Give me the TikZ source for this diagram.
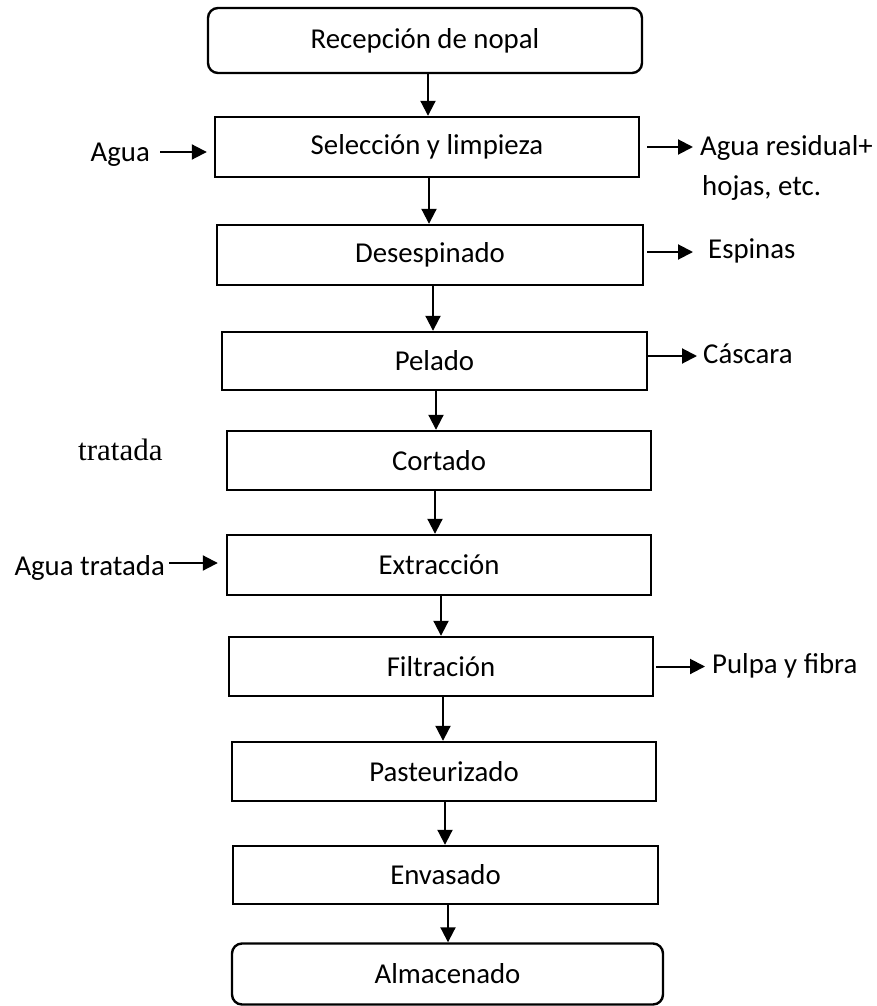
\documentclass[tikz,border=0pt]{standalone}
\usepackage{fontspec}
\setmainfont{Carlito}
\newfontfamily\serifont{Liberation Serif}
\usetikzlibrary{arrows.meta,calc}
\tikzset{
  stepbox/.style={draw=black, line width=2.4pt, inner sep=0pt, font=\fontsize{28.8}{34}\selectfont},
  endbox/.style={stepbox, rounded corners=10pt},
  flow/.style={line width=2pt, -{Triangle[width=15pt,length=15pt]}},
  lbl/.style={inner sep=0pt, font=\fontsize{28.8}{34}\selectfont},
  serlbl/.style={inner sep=0pt, font=\serifont\fontsize{31}{36}\selectfont}
}
\begin{document}
\begin{tikzpicture}[x=1pt,y=-1pt]
\useasboundingbox (0,0) rectangle (877,1006);
% boxes
\node[endbox, minimum width=434pt, minimum height=65pt] (r1) at (425,40.5) {Recepción de nopal};
\node[stepbox, minimum width=424pt, minimum height=60pt] (r2) at (427,147) {Selección y limpieza};
\node[stepbox, minimum width=426pt, minimum height=60pt] (r3) at (430,255) {Desespinado};
\node[stepbox, minimum width=425pt, minimum height=58pt] (r4) at (434.5,361) {Pelado};
\node[stepbox, minimum width=424pt, minimum height=59pt] (r5) at (439,460.5) {Cortado};
\node[stepbox, minimum width=424pt, minimum height=60pt] (r6) at (439,565) {Extracción};
\node[stepbox, minimum width=424pt, minimum height=59pt] (r7) at (441,666.5) {Filtración};
\node[stepbox, minimum width=424pt, minimum height=59pt] (r8) at (444,771.5) {Pasteurizado};
\node[stepbox, minimum width=425pt, minimum height=58pt] (r9) at (445.5,875) {Envasado};
\node[endbox, minimum width=431pt, minimum height=61pt] (r10) at (447.5,974) {Almacenado};
% vertical arrows
\draw[flow] ([xshift=3pt]r1.south) -- ([xshift=3pt]r1.south |- r2.north);
\draw[flow] ([xshift=2pt]r2.south) -- ([xshift=2pt]r2.south |- r3.north);
\draw[flow] ([xshift=3pt]r3.south) -- ([xshift=3pt]r3.south |- r4.north);
\draw[flow] ([xshift=1.5pt]r4.south) -- ([xshift=1.5pt]r4.south |- r5.north);
\draw[flow] ([xshift=-4pt]r5.south) -- ([xshift=-4pt]r5.south |- r6.north);
\draw[flow] ([xshift=2pt]r6.south) -- ([xshift=2pt]r6.south |- r7.north);
\draw[flow] ([xshift=2pt]r7.south) -- ([xshift=2pt]r7.south |- r8.north);
\draw[flow] ([xshift=1pt]r8.south) -- ([xshift=1pt]r8.south |- r9.north);
\draw[flow] ([xshift=2.5pt]r9.south) -- ([xshift=2.5pt]r9.south |- r10.north);
% side labels
\node[lbl, anchor=base east] (agua) at (150,161) {Agua};
\node[lbl, anchor=base west] (res1) at (700,155) {Agua residual+};
\node[lbl, anchor=base west] (res2) at (702,195) {hojas, etc.};
\node[lbl, anchor=base west] (esp) at (708,258) {Espinas};
\node[lbl, anchor=base west] (casc) at (703,363) {Cáscara};
\node[serlbl, anchor=base west] (trat) at (78,460) {tratada};
\node[lbl, anchor=base east] (aguat) at (165,575) {Agua tratada};
\node[lbl, anchor=base west] (pulpa) at (712,673) {Pulpa y fibra};
% side arrows
\draw[flow] ($(agua.base east)+(10pt,9pt)$) -- ($(agua.base east -| r2.west)+(-7pt,9pt)$);
\draw[flow] ($(r2.east)+(7pt,0pt)$) -- ($(r2.east -| res1.west)+(-7pt,0pt)$);
\draw[flow] ($(r3.east)+(3pt,3pt)$) -- ($(esp.base west)+(-15pt,6pt)$);
\draw[flow] ($(r4.east)+(0pt,5pt)$) -- ($(casc.base west)+(-6pt,7pt)$);
\draw[flow] ($(aguat.base east)+(4pt,12pt)$) -- ($(aguat.base east -| r6.west)+(-8pt,12pt)$);
\draw[flow] ($(r7.east)+(2pt,0pt)$) -- ($(r7.east -| pulpa.base west)+(-7pt,0pt)$);
\end{tikzpicture}
\end{document}
